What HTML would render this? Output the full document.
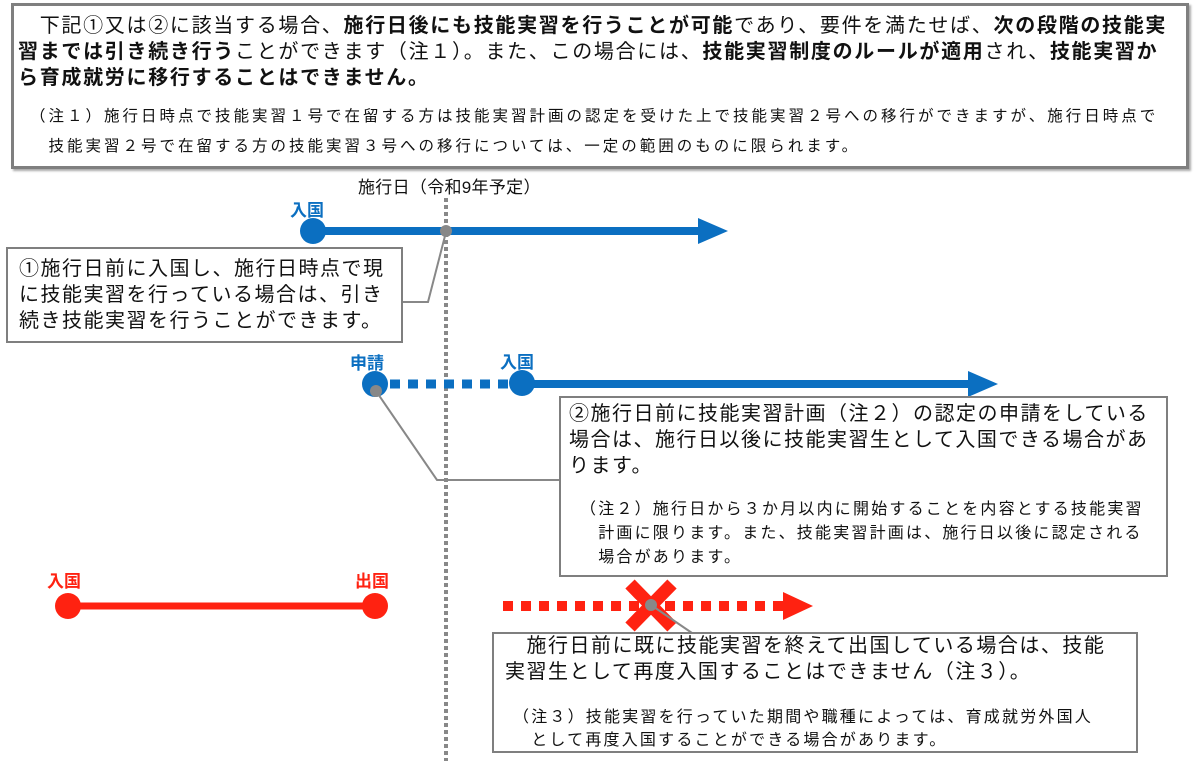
<!DOCTYPE html>
<html><head><meta charset="utf-8"><style>
body{margin:0;width:1201px;height:761px;background:#fff;position:relative;overflow:hidden;font-family:"Liberation Sans","Noto Sans CJK JP",sans-serif;color:#111}
.t{position:absolute;white-space:nowrap}
.big{font-size:20px;letter-spacing:1.5px;line-height:26px}
.note{font-size:16px;letter-spacing:2.2px;line-height:24px}
.box{position:absolute;border:2px solid #7f7f7f;background:#fff;box-sizing:border-box}
b{font-weight:bold}
.bl{color:#0b6fc1;font-weight:bold;font-size:17px}
.rd{color:#f21;font-weight:bold;font-size:17px}
</style></head><body>
<div class="box" style="left:11px;top:3px;width:1178px;height:166px;border-width:3px;box-shadow:2px 2px 2px #aaa"></div>
<div class="t" style="left:18px;top:13px;font-size:20px;letter-spacing:1.7px;line-height:26px">　下記①又は②に該当する場合、<b>施行日後にも技能実習を行うことが可能</b>であり、要件を満たせば、<b>次の段階の技能実</b><br><b>習までは引き続き行う</b>ことができます（注１）。また、この場合には、<b>技能実習制度のルールが適用</b>され、<b>技能実習か</b><br><b>ら育成就労に移行することはできません。</b></div>
<div class="t note" style="left:30px;top:102px;font-size:15.5px;letter-spacing:3px;line-height:30px">（注１）施行日時点で技能実習１号で在留する方は技能実習計画の認定を受けた上で技能実習２号への移行ができますが、施行日時点で<br>　技能実習２号で在留する方の技能実習３号への移行については、一定の範囲のものに限られます。</div>

<svg style="position:absolute;left:0;top:0" width="1201" height="761">
<line x1="446" y1="198" x2="446" y2="761" stroke="#888" stroke-width="4" stroke-dasharray="4,3"/>
<line x1="313" y1="231" x2="700" y2="231" stroke="#0b6fc1" stroke-width="8"/>
<polygon points="698,218 728,231 698,244" fill="#0b6fc1"/>
<circle cx="313" cy="231" r="13" fill="#0b6fc1"/>
<circle cx="446" cy="231" r="6" fill="#888"/>
<polyline points="403,302 428,302 446,232" fill="none" stroke="#888" stroke-width="2"/>
<line x1="390" y1="384" x2="515" y2="384" stroke="#0b6fc1" stroke-width="9" stroke-dasharray="10,8"/>
<line x1="522" y1="384" x2="970" y2="384" stroke="#0b6fc1" stroke-width="8"/>
<polygon points="968,371 998,384 968,397" fill="#0b6fc1"/>
<circle cx="375" cy="384" r="13" fill="#0b6fc1"/>
<circle cx="522" cy="383" r="13" fill="#0b6fc1"/>
<circle cx="376" cy="391" r="6" fill="#888"/>
<polyline points="376,391 437,480 560,480" fill="none" stroke="#888" stroke-width="2"/>
<line x1="68" y1="606" x2="375" y2="606" stroke="#f21" stroke-width="7"/>
<circle cx="68" cy="606" r="13" fill="#f21"/>
<circle cx="375" cy="606" r="13" fill="#f21"/>
<line x1="503" y1="606" x2="785" y2="606" stroke="#f21" stroke-width="10" stroke-dasharray="10,8"/>
<polygon points="783,592 813,606 783,620" fill="#f21"/>
<g stroke="#f21" stroke-width="13"><line x1="630" y1="584" x2="672" y2="627"/><line x1="672" y1="584" x2="630" y2="627"/></g>
<circle cx="651" cy="605" r="6" fill="#888"/>
<line x1="651" y1="605" x2="692" y2="633" stroke="#888" stroke-width="2"/>
</svg>

<div class="t" style="left:358px;top:173px;font-size:17px;letter-spacing:0.3px">施行日（令和9年予定）</div>
<div class="t bl" style="left:290px;top:196px">入国</div>
<div class="t bl" style="left:350px;top:349px">申請</div>
<div class="t bl" style="left:500px;top:348px">入国</div>
<div class="t rd" style="left:47px;top:567px">入国</div>
<div class="t rd" style="left:355px;top:567px">出国</div>

<div class="box" style="left:6px;top:247px;width:397px;height:96px"></div>
<div class="t big" style="left:19px;top:256px">①施行日前に入国し、施行日時点で現<br>に技能実習を行っている場合は、引き<br>続き技能実習を行うことができます。</div>

<div class="box" style="left:559px;top:396px;width:609px;height:181px"></div>
<div class="t big" style="left:569px;top:401px">②施行日前に技能実習計画（注２）の認定の申請をしている<br>場合は、施行日以後に技能実習生として入国できる場合があ<br>ります。</div>
<div class="t note" style="left:580px;top:498px">（注２）施行日から３か月以内に開始することを内容とする技能実習<br>　計画に限ります。また、技能実習計画は、施行日以後に認定される<br>　場合があります。</div>

<div class="box" style="left:492px;top:632px;width:646px;height:121px"></div>
<div class="t big" style="left:505px;top:633px">　施行日前に既に技能実習を終えて出国している場合は、技能<br>実習生として再度入国することはできません（注３）。</div>
<div class="t note" style="left:513px;top:706px;line-height:23px">（注３）技能実習を行っていた期間や職種によっては、育成就労外国人<br>　として再度入国することができる場合があります。</div>
</body></html>
